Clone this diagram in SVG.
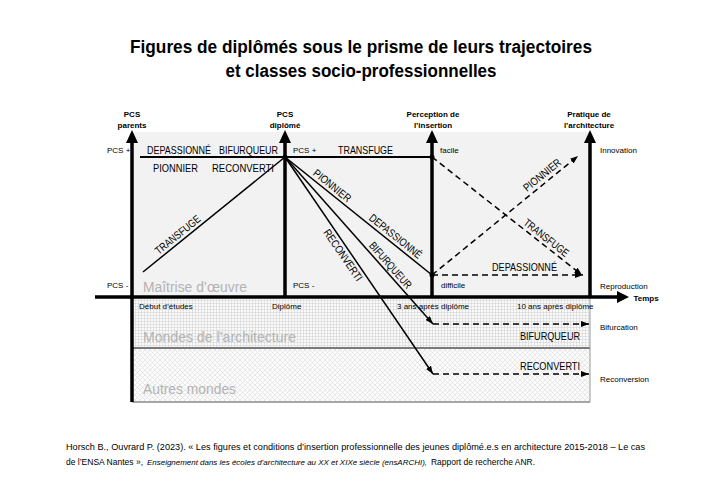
<svg xmlns="http://www.w3.org/2000/svg" width="720" height="480" viewBox="0 0 720 480">
<style>
text { font-family: "Liberation Sans", Arial, sans-serif; fill: #000; }
.title { font-size: 18px; font-weight: bold; text-anchor: middle; }
.ax { font-size: 8px; font-weight: bold; text-anchor: middle; }
.sm { font-size: 8px; }
.lb { font-size: 11px; }
.rot { font-size: 11px; text-anchor: middle; }
.zone { font-size: 14px; fill: #b3b3b3; }
.foot { font-size: 9px; }
.it { font-style: italic; font-size: 8px; }
.axis { stroke: #000; stroke-width: 3.5; fill: none; }
.solid { stroke: #000; stroke-width: 1.5; fill: none; }
.dash { stroke: #000; stroke-width: 1.5; fill: none; stroke-dasharray: 6 4; }
</style>
<defs>
<pattern id="grid" width="3" height="3" patternUnits="userSpaceOnUse">
<rect width="3" height="3" fill="#fafafa"/>
<path d="M0 0.5H3M0.5 0V3" stroke="#d3d3d3" stroke-width="0.6"/>
</pattern>
<pattern id="xhatch" width="5" height="5" patternUnits="userSpaceOnUse">
<rect width="5" height="5" fill="#fbfbfb"/>
<path d="M0 0L5 5M5 0L0 5" stroke="#dcdcdc" stroke-width="0.6"/>
</pattern>
<marker id="arr" markerUnits="userSpaceOnUse" viewBox="0 0 8 6" refX="8" refY="3" markerWidth="8" markerHeight="6" orient="auto">
<path d="M0 0L8 3L0 6z" fill="#000"/>
</marker>
</defs>

<rect width="720" height="480" fill="#fff"/>

<g id="title">
<text class="title" x="361" y="53" textLength="462" lengthAdjust="spacingAndGlyphs">Figures de diplômés sous le prisme de leurs trajectoires</text>
<text class="title" x="361" y="77" textLength="271" lengthAdjust="spacingAndGlyphs">et classes socio-professionnelles</text>
</g>

<g id="zones">
<rect x="132" y="132" width="458" height="165" fill="#f2f2f2"/>
<rect x="132" y="297" width="458" height="51" fill="url(#grid)"/>
<rect x="132" y="348" width="458" height="54" fill="url(#xhatch)"/>
<line x1="132" y1="348" x2="590" y2="348" stroke="#7a7a7a" stroke-width="2"/>
<line x1="132" y1="402" x2="590" y2="402" stroke="#8a8a8a" stroke-width="1.5"/>
<line x1="590" y1="297" x2="590" y2="402" stroke="#9a9a9a" stroke-width="1"/>
<text class="zone" x="143" y="292" textLength="104" lengthAdjust="spacingAndGlyphs">Maîtrise d’œuvre</text>
<text class="zone" x="143" y="342" textLength="153" lengthAdjust="spacingAndGlyphs">Mondes de l’architecture</text>
<text class="zone" x="143" y="394" textLength="93" lengthAdjust="spacingAndGlyphs">Autres mondes</text>
</g>

<g id="axes">
<line class="axis" x1="132" y1="402" x2="132" y2="141"/>
<polygon points="126,143 132,130 138,143"/>
<line class="axis" x1="285" y1="297" x2="285" y2="141"/>
<polygon points="279,143 285,130 291,143"/>
<line class="axis" x1="432" y1="297" x2="432" y2="141"/>
<polygon points="426,143 432,130 438,143"/>
<line class="axis" x1="590" y1="297" x2="590" y2="141"/>
<polygon points="584,143 590,130 596,143"/>
<line class="axis" x1="95" y1="297" x2="618" y2="297"/>
<polygon points="617,291 629,297 617,303"/>
</g>

<g id="axis-labels">
<text class="ax" x="132" y="117">PCS</text>
<text class="ax" x="132" y="128">parents</text>
<text class="ax" x="285" y="117">PCS</text>
<text class="ax" x="285" y="128">diplômé</text>
<text class="ax" x="433" y="117">Perception de</text>
<text class="ax" x="433" y="128">l’insertion</text>
<text class="ax" x="589" y="117">Pratique de</text>
<text class="ax" x="589" y="128">l’architecture</text>
<text class="ax" x="646" y="301">Temps</text>
<text class="sm" x="107" y="153">PCS +</text>
<text class="sm" x="107" y="288">PCS -</text>
<text class="sm" x="293" y="153">PCS +</text>
<text class="sm" x="293" y="288">PCS -</text>
<text class="sm" x="440" y="153">facile</text>
<text class="sm" x="441" y="288">difficile</text>
<text class="sm" x="600" y="153">Innovation</text>
<text class="sm" x="600" y="289">Reproduction</text>
<text class="sm" x="600" y="330">Bifurcation</text>
<text class="sm" x="600" y="382">Reconversion</text>
<text class="sm" x="139" y="309">Début d’études</text>
<text class="sm" x="272" y="309">Diplôme</text>
<text class="sm" x="397" y="309">3 ans après diplôme</text>
<text class="sm" x="517" y="309">10 ans après diplôme</text>
</g>

<g id="connectors">
<line x1="140" y1="157" x2="432" y2="157" stroke="#000" stroke-width="2"/>
<line class="solid" x1="143" y1="272" x2="285" y2="157"/>
<line class="solid" x1="285" y1="157" x2="432" y2="275"/>
<line class="solid" x1="285" y1="157" x2="433" y2="324" marker-end="url(#arr)"/>
<line class="solid" x1="285" y1="157" x2="433" y2="374" marker-end="url(#arr)"/>
<line class="dash" x1="432" y1="157" x2="582" y2="275" marker-end="url(#arr)"/>
<line class="dash" x1="432" y1="275" x2="578" y2="156" marker-end="url(#arr)"/>
<line class="dash" x1="432" y1="275" x2="583" y2="275" marker-end="url(#arr)"/>
<line class="dash" x1="433" y1="324" x2="589" y2="324" marker-end="url(#arr)"/>
<line class="dash" x1="433" y1="374" x2="589" y2="374" marker-end="url(#arr)"/>
<circle cx="285" cy="157" r="2.5"/>
<circle cx="432" cy="157" r="2.5"/>
<circle cx="432" cy="275" r="2.5"/>
</g>

<g id="trajectory-labels">
<text class="lb" x="147" y="154" textLength="64" lengthAdjust="spacingAndGlyphs">DEPASSIONNÉ</text>
<text class="lb" x="219" y="154" textLength="59" lengthAdjust="spacingAndGlyphs">BIFURQUEUR</text>
<text class="lb" x="153" y="172" textLength="45" lengthAdjust="spacingAndGlyphs">PIONNIER</text>
<text class="lb" x="212" y="172" textLength="62" lengthAdjust="spacingAndGlyphs">RECONVERTI</text>
<text class="lb" x="338" y="154" textLength="55" lengthAdjust="spacingAndGlyphs">TRANSFUGE</text>
<text class="lb" x="492" y="271" textLength="65" lengthAdjust="spacingAndGlyphs">DEPASSIONNÉ</text>
<text class="lb" x="520" y="340" textLength="60" lengthAdjust="spacingAndGlyphs">BIFURQUEUR</text>
<text class="lb" x="520" y="370" textLength="60" lengthAdjust="spacingAndGlyphs">RECONVERTI</text>
<text class="rot" transform="translate(182,240) rotate(-39)" y="-3" textLength="55" lengthAdjust="spacingAndGlyphs">TRANSFUGE</text>
<text class="rot" transform="translate(328,191) rotate(38.8)" y="-3" textLength="45" lengthAdjust="spacingAndGlyphs">PIONNIER</text>
<text class="rot" transform="translate(391,242) rotate(38.8)" y="-3.5" textLength="64" lengthAdjust="spacingAndGlyphs">DEPASSIONNÉ</text>
<text class="rot" transform="translate(385,270) rotate(48.5)" y="-3.5" textLength="58" lengthAdjust="spacingAndGlyphs">BIFURQUEUR</text>
<text class="rot" transform="translate(349,251) rotate(55.7)" y="11" textLength="60" lengthAdjust="spacingAndGlyphs">RECONVERTI</text>
<text class="rot" transform="translate(542,243) rotate(38.2)" y="-3" textLength="54" lengthAdjust="spacingAndGlyphs">TRANSFUGE</text>
<text class="rot" transform="translate(547,181) rotate(-39.2)" y="-4" textLength="45" lengthAdjust="spacingAndGlyphs">PIONNIER</text>
</g>

<g id="footer">
<text class="foot" x="66" y="450" textLength="579" lengthAdjust="spacingAndGlyphs">Horsch B., Ouvrard P. (2023). « Les figures et conditions d’insertion professionnelle des jeunes diplômé.e.s en architecture 2015-2018 – Le cas</text>
<text class="foot" x="66" y="465" textLength="77" lengthAdjust="spacingAndGlyphs">de l’ENSA Nantes »,</text>
<text class="foot it" x="147" y="465" textLength="280" lengthAdjust="spacingAndGlyphs">Enseignement dans les écoles d’architecture au XX et XIXe siècle (ensARCHI),</text>
<text class="foot" x="431" y="465" textLength="104" lengthAdjust="spacingAndGlyphs">Rapport de recherche ANR.</text>
</g>
</svg>
